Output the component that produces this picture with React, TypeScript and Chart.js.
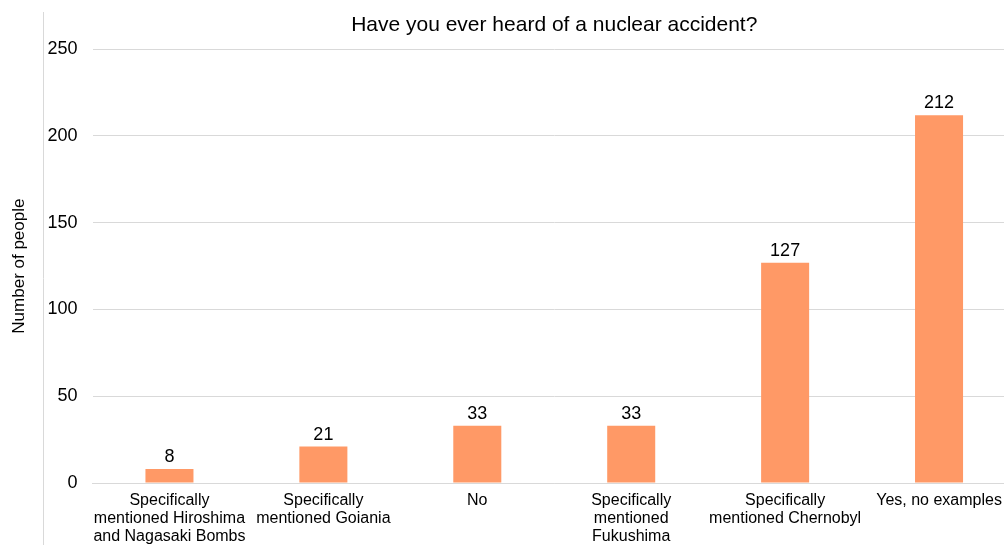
import React, { useEffect, useRef } from "react";
import { Chart, registerables } from "chart.js";

Chart.register(...registerables);

const categories: (string | string[])[] = [
  ["Specifically", "mentioned Hiroshima", "and Nagasaki Bombs"],
  ["Specifically", "mentioned Goiania"],
  "No",
  ["Specifically", "mentioned", "Fukushima"],
  ["Specifically", "mentioned Chernobyl"],
  "Yes, no examples",
];
const counts: number[] = [8, 21, 33, 33, 127, 212];
const titleText = "Have you ever heard of a nuclear accident?";
const yTitle = "Number of people";
const yMin = 0;
const yMax = 250;
const yStep = 50;

const FONT = "'Liberation Sans', Arial, sans-serif";

const valueLabels = {
  id: "valueLabels",
  afterDatasetsDraw(chart: any) {
    const ctx = chart.ctx;
    const meta = chart.getDatasetMeta(0);
    ctx.save();
    ctx.font = `18px ${FONT}`;
    ctx.fillStyle = "#000000";
    ctx.textAlign = "center";
    ctx.textBaseline = "alphabetic";
    meta.data.forEach((el: any, i: number) => {
      ctx.fillText(String(counts[i]), el.x, el.y - 7);
    });
    ctx.restore();
  },
};

const frameLine = {
  id: "frameLine",
  beforeDraw(chart: any) {
    const ctx = chart.ctx;
    ctx.save();
    ctx.strokeStyle = "#d9d9d9";
    ctx.lineWidth = 1;
    ctx.beginPath();
    ctx.moveTo(43.5, 12);
    ctx.lineTo(43.5, chart.height);
    ctx.stroke();
    ctx.restore();
  },
};

export default function App() {
  const ref = useRef<HTMLCanvasElement | null>(null);
  useEffect(() => {
    if (!ref.current) return;
    const chart = new Chart(ref.current, {
      type: "bar",
      data: {
        labels: categories,
        datasets: [
          {
            data: counts,
            backgroundColor: "#FF9966",
            borderWidth: 0,
            barPercentage: 0.624,
            categoryPercentage: 0.5,
          },
        ],
      },
      options: {
        animation: false,
        responsive: true,
        maintainAspectRatio: false,
        layout: { padding: { top: 0, right: 0, bottom: 0, left: 0 } },
        plugins: {
          legend: { display: false },
          tooltip: { enabled: false },
          title: {
            display: true,
            text: titleText,
            fullSize: false,
            color: "#000000",
            font: { family: FONT, size: 21, weight: "normal", lineHeight: 1.2 },
            padding: { top: 13, bottom: 11 },
          },
        },
        scales: {
          x: {
            grid: { display: false, drawTicks: false },
            border: { display: true, color: "#d9d9d9" },
            ticks: {
              color: "#000000",
              font: { family: FONT, size: 16, lineHeight: 1.15 },
              maxRotation: 0,
              autoSkip: false,
              padding: 8,
            },
            afterFit(scale: any) {
              scale.height = 62;
            },
          },
          y: {
            min: yMin,
            max: yMax,
            ticks: {
              stepSize: yStep,
              color: "#000000",
              font: { family: FONT, size: 18 },
              padding: 15,
            },
            grid: { color: "#d9d9d9", drawTicks: false, tickLength: 0 },
            border: { display: false },
            title: {
              display: true,
              text: yTitle,
              color: "#000000",
              font: { family: FONT, size: 17 },
              padding: { top: 9, bottom: 0 },
            },
            afterFit(scale: any) {
              scale.width = 92.5;
            },
          },
        },
      },
      plugins: [valueLabels, frameLine],
    });
    return () => chart.destroy();
  }, []);
  return (
    <div
      style={{
        position: "fixed",
        left: 0,
        top: 0,
        width: 1004,
        height: 545,
        overflow: "hidden",
        background: "#ffffff",
      }}
    >
      <div style={{ position: "absolute", left: 0, top: 0, width: 1016, height: 545 }}>
        <canvas ref={ref} />
      </div>
    </div>
  );
}
